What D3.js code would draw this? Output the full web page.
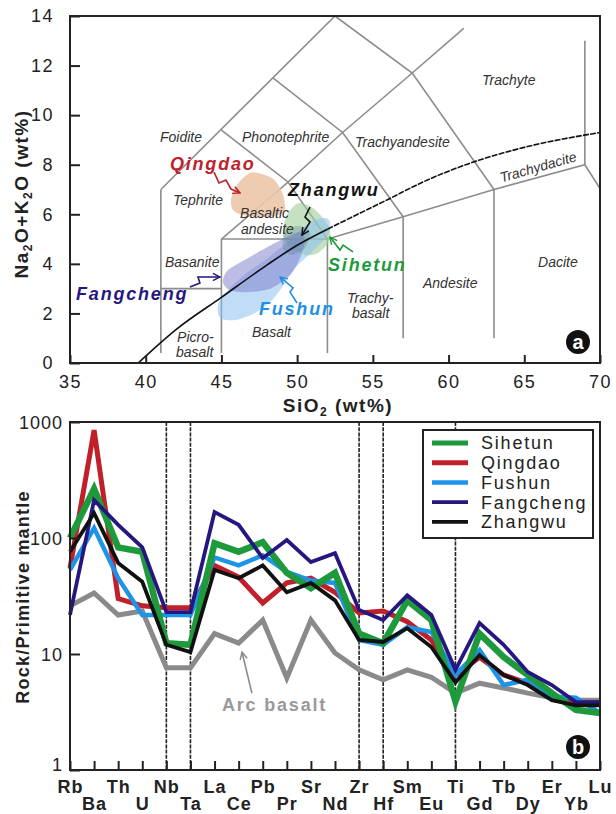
<!DOCTYPE html>
<html>
<head>
<meta charset="utf-8">
<script src="https://cdn.jsdelivr.net/npm/d3@7"></script>
<style>
  body { margin: 0; background: #fff; }
  svg { font-family: "Liberation Sans", Arial, sans-serif; }
</style>
</head>
<body>
<svg id="chart" width="616" height="814"></svg>
<script>
// ---------- (a) TAS diagram data ----------
const tasTicksX = [35, 40, 45, 50, 55, 60, 65, 70];
const tasTicksY = [0, 2, 4, 6, 8, 10, 12, 14];

// field boundaries [SiO2, Na2O+K2O]
const tasBoundaries = [
    [[41, 0.4], [41, 7]],
    [[41, 3], [45, 3]],
    [[45, 0.4], [45, 5]],
    [[45, 5], [52, 5]],
    [[52, 0.4], [52, 5]],
    [[52, 5], [57, 5.9], [63, 7], [69, 8], [77.3, 0]],
    [[57, 1], [57, 5.9]],
    [[63, 1], [63, 7]],
    [[69, 8], [69, 13]],
    [[45, 5], [49.4, 7.3], [52, 5]],
    [[41, 7], [52.5, 14]],
    [[45, 9.4], [49.4, 7.3], [53, 9.3], [57.6, 11.7], [61, 13.5]],
    [[48.4, 11.5], [53, 9.3], [57, 5.9]],
    [[52.5, 14], [57.6, 11.7], [63, 7]]
];

// alkaline / subalkaline divide (solid lower part, dashed upper part)
const alkalineLower = [[39.5, 0], [42, 1.35], [45, 2.65], [48, 3.95], [50, 4.75], [52, 5.4]];
const alkalineUpper = [[52, 5.4], [54, 6.0], [56, 6.6], [58.3, 7.3], [61.6, 8.1], [65, 8.7], [70, 9.3]];

const fieldQingdao = [[47.08, 7.70], [48.34, 7.46], [49.00, 6.90], [49.20, 6.37], [49.07, 6.05],
    [48.01, 5.89], [46.42, 5.97], [45.76, 6.17], [45.63, 6.58], [45.90, 7.06], [46.42, 7.46]];
const fieldSihetun = [[50.06, 6.45], [51.05, 6.25], [52.04, 5.57], [52.17, 4.96], [51.38, 4.44],
    [50.52, 4.36], [49.40, 4.76], [49.07, 5.28], [49.33, 5.97]];
const fieldFushun = [[44.91, 1.82], [44.77, 2.34], [45.43, 2.94], [46.75, 3.67], [48.08, 4.24],
    [49.53, 4.96], [50.85, 5.69], [51.84, 5.85], [52.17, 5.69], [52.04, 5.16], [50.98, 4.48],
    [49.86, 3.83], [49.20, 3.23], [48.34, 2.54], [47.22, 2.02], [45.90, 1.73]];
const fieldFangcheng = [[45.10, 3.27], [45.43, 3.75], [46.89, 4.28], [48.54, 4.84], [50.06, 5.28],
    [50.52, 4.96], [50.19, 4.24], [49.53, 3.55], [48.34, 3.03], [46.89, 2.86], [45.57, 2.94]];
const fieldZhangwu = [[49.20, 5.37], [50.19, 5.53], [50.85, 5.28], [50.52, 4.64], [49.66, 4.36], [49.07, 4.64]];

const rockNames = [
    { t: 'Foidite', p: [40.94, 8.91] },
    { t: 'Phonotephrite', p: [46.36, 8.91] },
    { t: 'Trachyandesite', p: [53.82, 8.71] },
    { t: 'Trachyte', p: [62.21, 11.21] },
    { t: 'Tephrite', p: [41.80, 6.37] },
    { t: 'Basaltic', p: [46.23, 5.85] },
    { t: 'andesite', p: [46.29, 5.20] },
    { t: 'Basanite', p: [41.27, 3.87] },
    { t: 'Picro-', p: [42.07, 0.85] },
    { t: 'basalt', p: [42.00, 0.24] },
    { t: 'Basalt', p: [47.02, 1.05] },
    { t: 'Trachy-', p: [53.29, 2.42] },
    { t: 'basalt', p: [53.62, 1.82] },
    { t: 'Andesite', p: [58.31, 3.03] },
    { t: 'Dacite', p: [65.91, 3.87] }
];

// ---------- (b) spider diagram data ----------
const elements = ['Rb', 'Ba', 'Th', 'U', 'Nb', 'Ta', 'La', 'Ce', 'Pb', 'Pr', 'Sr', 'Nd',
    'Zr', 'Hf', 'Sm', 'Eu', 'Ti', 'Gd', 'Tb', 'Dy', 'Er', 'Yb', 'Lu'];
const dashedElements = ['Nb', 'Ta', 'Zr', 'Hf', 'Ti'];

const arcBasalt = [26, 33.6, 21.7, 23.5, 7.6, 7.6, 15, 12.4, 19.6, 6.2, 19.6, 10.2,
    7.3, 6, 7.3, 6.3, 4.6, 5.6, 5.1, 4.6, 4.2, 4, 4];
const sihetun = [100, 265, 83, 76, 12.4, 12, 90, 76, 92, 50, 37, 50,
    15, 12.4, 29, 19.6, 3.9, 15, 9.4, 6.6, 4.6, 3.3, 3.1];
const qingdao = [55, 850, 30, 26, 25, 25, 58, 46, 27.5, 41, 45, 34,
    22.6, 23.5, 19, 13.2, 6.6, 9.4, 6.6, 5.6, 4.3, 3.8, 3.8];
const fushun = [53, 122, 45, 21.7, 21.7, 21.7, 68, 58, 71, 51, 43, 41,
    13.2, 12, 17, 15.5, 6.6, 10.8, 5.4, 6, 4.3, 4.2, 3.1];
const fangcheng = [21.7, 212, 130, 83, 23, 23, 167, 130, 67, 96, 62, 74,
    24, 19.6, 32, 21.7, 7.3, 18.5, 12, 7, 5.4, 3.85, 3.85];
const zhangwu = [76, 164, 61, 42, 12, 10.4, 53, 45, 58, 34, 41, 29,
    13.2, 12.7, 16.7, 11.5, 5.7, 9.8, 6.6, 5.4, 4, 3.6, 3.6];

const series = [
    { name: 'Sihetun', values: sihetun, color: '#1e9a3c', width: 6.5 },
    { name: 'Qingdao', values: qingdao, color: '#c0202a', width: 5 },
    { name: 'Fushun', values: fushun, color: '#1e94e6', width: 4.5 },
    { name: 'Fangcheng', values: fangcheng, color: '#26167f', width: 3.8 },
    { name: 'Zhangwu', values: zhangwu, color: '#111111', width: 3.8 }
];
const drawOrder = ['Qingdao', 'Fushun', 'Sihetun', 'Fangcheng', 'Zhangwu'];

const svg = d3.select('#chart');
svg.append('defs');

function addMarker(id, color) {
    svg.select('defs').append('marker')
        .attr('id', id)
        .attr('viewBox', '0 0 10 10')
        .attr('refX', 9).attr('refY', 5)
        .attr('markerWidth', 9).attr('markerHeight', 9)
        .attr('markerUnits', 'userSpaceOnUse')
        .attr('orient', 'auto')
        .append('path')
        .attr('d', 'M1,1 L9,5 L1,9')
        .attr('fill', 'none')
        .attr('stroke', color)
        .attr('stroke-width', 1.6);
}

// =============== panel a ===============
const A = { left: 70, right: 600, top: 16, bottom: 363 };
const xa = d3.scaleLinear().domain([35, 70]).range([A.left, A.right]);
const ya = d3.scaleLinear().domain([0, 14]).range([A.bottom, A.top]);

svg.select('defs').append('clipPath').attr('id', 'clipA')
    .append('rect').attr('x', A.left).attr('y', A.top)
    .attr('width', A.right - A.left).attr('height', A.bottom - A.top);

const ga = svg.append('g');
const plotA = ga.append('g').attr('clip-path', 'url(#clipA)');

const lineA = d3.line().x(d => xa(d[0])).y(d => ya(d[1]));
const curveA = d3.line().x(d => xa(d[0])).y(d => ya(d[1])).curve(d3.curveMonotoneX);

plotA.selectAll('path.bound')
    .data(tasBoundaries)
    .join('path')
    .attr('class', 'bound')
    .attr('d', lineA)
    .attr('fill', 'none')
    .attr('stroke', '#8c8c8c')
    .attr('stroke-width', 1.6);

const blob = d3.line().x(d => xa(d[0])).y(d => ya(d[1]))
    .curve(d3.curveCardinalClosed.tension(0.2));
const fields = [
    { pts: fieldQingdao, fill: '#ebc6aa', op: 0.9 },
    { pts: fieldSihetun, fill: '#9ccf98', op: 0.6 },
    { pts: fieldFushun, fill: '#8cc0ee', op: 0.55 },
    { pts: fieldFangcheng, fill: '#7a7acb', op: 0.5 },
    { pts: fieldZhangwu, fill: '#557a90', op: 0.3 }
];
plotA.selectAll('path.field')
    .data(fields)
    .join('path')
    .attr('class', 'field')
    .attr('d', d => blob(d.pts))
    .attr('fill', d => d.fill)
    .attr('fill-opacity', d => d.op);

plotA.append('path')
    .datum(alkalineLower)
    .attr('d', curveA)
    .attr('fill', 'none')
    .attr('stroke', '#111')
    .attr('stroke-width', 1.6);
plotA.append('path')
    .datum(alkalineUpper)
    .attr('d', curveA)
    .attr('fill', 'none')
    .attr('stroke', '#111')
    .attr('stroke-width', 1.6)
    .attr('stroke-dasharray', '6,1.2');

// rock names
ga.selectAll('text.rock')
    .data(rockNames)
    .join('text')
    .attr('class', 'rock')
    .attr('x', d => xa(d.p[0]))
    .attr('y', d => ya(d.p[1]))
    .attr('font-size', '14px')
    .attr('font-style', 'italic')
    .attr('fill', '#333')
    .text(d => d.t);

ga.append('text')
    .attr('transform', `translate(${xa(65.91)},${ya(7.91)}) rotate(-16)`)
    .attr('text-anchor', 'middle')
    .attr('dy', '0.35em')
    .attr('font-size', '14px')
    .attr('font-style', 'italic')
    .attr('fill', '#333')
    .text('Trachydacite');

// sample labels and squiggle arrows
const sampleLabels = [
    { t: 'Qingdao', p: [41.60, 7.78], color: '#c0202a',
      arrow: [[44.51, 7.70], [44.84, 7.26], [45.30, 7.38], [45.63, 7.02], [46.23, 6.86]] },
    { t: 'Zhangwu', p: [49.40, 6.74], color: '#111111',
      arrow: [[50.85, 6.29], [50.52, 5.89], [50.85, 5.69], [50.32, 5.16]] },
    { t: 'Sihetun', p: [52.04, 3.71], color: '#1e9a3c',
      arrow: [[53.69, 4.48], [53.03, 4.76], [52.83, 4.56], [52.17, 5.08]] },
    { t: 'Fushun', p: [47.48, 1.94], color: '#1e8fe6',
      arrow: [[49.99, 2.42], [49.53, 2.86], [49.73, 3.03], [48.87, 3.47]] },
    { t: 'Fangcheng', p: [35.40, 2.54], color: '#261780',
      arrow: [[42.92, 3.07], [43.58, 3.23], [43.45, 3.47], [44.91, 3.47]] }
];
sampleLabels.forEach((s, i) => {
    addMarker('arr' + i, s.color);
    ga.append('path')
        .datum(s.arrow)
        .attr('d', lineA)
        .attr('fill', 'none')
        .attr('stroke', s.color)
        .attr('stroke-width', 1.6)
        .attr('marker-end', `url(#arr${i})`);
    ga.append('text')
        .attr('x', xa(s.p[0]))
        .attr('y', ya(s.p[1]))
        .attr('font-size', '18px')
        .attr('font-weight', 'bold')
        .attr('font-style', 'italic')
        .attr('letter-spacing', '1.8px')
        .attr('fill', s.color)
        .text(s.t);
});

// axes a
const xAxisA = ga.append('g')
    .attr('transform', `translate(0,${A.bottom})`)
    .call(d3.axisBottom(xa).tickValues(tasTicksX).tickSizeInner(-8).tickSizeOuter(0));
const yAxisA = ga.append('g')
    .attr('transform', `translate(${A.left},0)`)
    .call(d3.axisLeft(ya).tickValues(tasTicksY).tickSizeInner(-10).tickSizeOuter(0));
[xAxisA, yAxisA].forEach(ax => {
    ax.select('.domain').remove();
    ax.selectAll('line').attr('stroke', '#222').attr('stroke-width', 2);
    ax.selectAll('text').attr('font-size', '18px').attr('fill', '#222')
        .attr('letter-spacing', '1.5px').attr('font-family', null);
});
xAxisA.selectAll('text').attr('y', 25).attr('dy', null);
yAxisA.selectAll('text').attr('x', -16);

ga.append('rect')
    .attr('x', A.left).attr('y', A.top)
    .attr('width', A.right - A.left).attr('height', A.bottom - A.top)
    .attr('fill', 'none').attr('stroke', '#222').attr('stroke-width', 2);

const xTitleA = ga.append('text')
    .attr('x', 338).attr('y', 412)
    .attr('text-anchor', 'middle')
    .attr('font-size', '19px').attr('font-weight', 'bold')
    .attr('letter-spacing', '1.5px').attr('fill', '#222');
xTitleA.append('tspan').text('SiO');
xTitleA.append('tspan').attr('font-size', '12px').attr('dy', 4).text('2');
xTitleA.append('tspan').attr('dy', -4).text(' (wt%)');

const yTitleA = ga.append('text')
    .attr('transform', 'translate(28,194) rotate(-90)')
    .attr('text-anchor', 'middle')
    .attr('font-size', '19px').attr('font-weight', 'bold')
    .attr('letter-spacing', '1.5px').attr('fill', '#222');
yTitleA.append('tspan').text('Na');
yTitleA.append('tspan').attr('font-size', '12px').attr('dy', 4).text('2');
yTitleA.append('tspan').attr('dy', -4).text('O+K');
yTitleA.append('tspan').attr('font-size', '12px').attr('dy', 4).text('2');
yTitleA.append('tspan').attr('dy', -4).text('O (wt%)');

function badge(g, cx, cy, letter) {
    g.append('circle').attr('cx', cx).attr('cy', cy).attr('r', 12).attr('fill', '#111');
    g.append('text').attr('x', cx).attr('y', cy).attr('dy', '0.33em')
        .attr('text-anchor', 'middle').attr('font-size', '20px')
        .attr('font-weight', 'bold').attr('fill', '#fff').text(letter);
}
badge(ga, A.right - 22, A.bottom - 21, 'a');

// =============== panel b ===============
const B = { left: 70, right: 600, top: 422, bottom: 770 };
const xb = d3.scalePoint().domain(elements).range([B.left, B.right]);
const yb = d3.scaleLog().domain([1, 1000]).range([B.bottom, B.top]);
const gb = svg.append('g');

gb.selectAll('line.sep')
    .data(dashedElements)
    .join('line')
    .attr('class', 'sep')
    .attr('x1', d => xb(d)).attr('x2', d => xb(d))
    .attr('y1', B.top).attr('y2', B.bottom)
    .attr('stroke', '#222')
    .attr('stroke-width', 1.6)
    .attr('stroke-dasharray', '4,1.2');

const lineB = d3.line()
    .x((d, i) => xb(elements[i]))
    .y(d => yb(d));

gb.append('path')
    .datum(arcBasalt)
    .attr('d', lineB)
    .attr('fill', 'none')
    .attr('stroke', '#8a8a8a')
    .attr('stroke-width', 5)
    .attr('stroke-linejoin', 'miter');

drawOrder.forEach(name => {
    const s = series.find(d => d.name === name);
    gb.append('path')
        .datum(s.values)
        .attr('d', lineB)
        .attr('fill', 'none')
        .attr('stroke', s.color)
        .attr('stroke-width', s.width)
        .attr('stroke-linejoin', 'miter');
});

// arc basalt label
addMarker('arrArc', '#8a8a8a');
gb.append('path')
    .datum([[7.55, 4.6], [7.14, 10.4]])
    .attr('d', d3.line()
        .x(d => B.left + d[0] * xb.step())
        .y(d => yb(d[1])))
    .attr('fill', 'none')
    .attr('stroke', '#8a8a8a')
    .attr('stroke-width', 1.6)
    .attr('marker-end', 'url(#arrArc)');
gb.append('text')
    .attr('x', 222).attr('y', 711)
    .attr('font-size', '18px').attr('font-weight', 'bold')
    .attr('letter-spacing', '1.8px').attr('fill', '#999')
    .text('Arc basalt');

// axes b
const xAxisB = gb.append('g')
    .attr('transform', `translate(0,${B.bottom})`)
    .call(d3.axisBottom(xb).tickSizeInner(-9).tickSizeOuter(0));
const yAxisB = gb.append('g')
    .attr('transform', `translate(${B.left},0)`)
    .call(d3.axisLeft(yb).tickValues([1, 10, 100, 1000]).tickFormat(d3.format('d'))
        .tickSizeInner(-10).tickSizeOuter(0));
[xAxisB, yAxisB].forEach(ax => {
    ax.select('.domain').remove();
    ax.selectAll('line').attr('stroke', '#222').attr('stroke-width', 2);
    ax.selectAll('text').attr('font-size', '18px').attr('fill', '#222')
        .attr('letter-spacing', '1px').attr('font-family', null);
});
xAxisB.selectAll('text')
    .attr('font-weight', 'bold')
    .attr('dy', null)
    .attr('y', (d, i) => i % 2 === 0 ? 23 : 40);
yAxisB.selectAll('text').attr('x', -7)
    .attr('dy', d => d === 1 ? '0' : '0.35em');

gb.append('rect')
    .attr('x', B.left).attr('y', B.top)
    .attr('width', B.right - B.left).attr('height', B.bottom - B.top)
    .attr('fill', 'none').attr('stroke', '#222').attr('stroke-width', 2);

gb.append('text')
    .attr('transform', 'translate(29,597) rotate(-90)')
    .attr('text-anchor', 'middle')
    .attr('font-size', '18px').attr('font-weight', 'bold')
    .attr('letter-spacing', '1.2px').attr('fill', '#222')
    .text('Rock/Primitive mantle');

// legend
const legend = gb.append('g').attr('transform', 'translate(423,430)');
legend.append('rect')
    .attr('width', 170).attr('height', 108)
    .attr('fill', '#fff').attr('stroke', '#222').attr('stroke-width', 2);
series.forEach((s, i) => {
    const yy = 13 + i * 19.7;
    legend.append('line')
        .attr('x1', 9).attr('x2', 45)
        .attr('y1', yy).attr('y2', yy)
        .attr('stroke', s.color)
        .attr('stroke-width', Math.min(s.width, 5));
    legend.append('text')
        .attr('x', 58).attr('y', yy).attr('dy', '0.36em')
        .attr('font-size', '18px').attr('letter-spacing', '1.8px')
        .attr('fill', '#222')
        .text(s.name);
});

badge(gb, B.right - 22, B.bottom - 23, 'b');
</script>
</body>
</html>
